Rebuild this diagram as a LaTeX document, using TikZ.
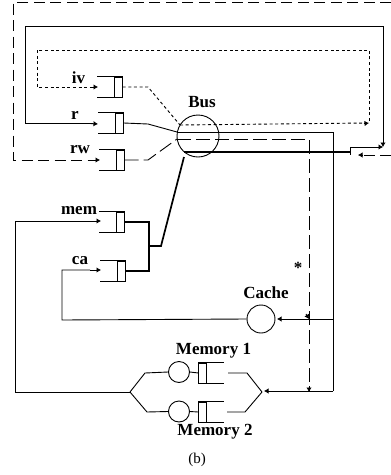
\documentclass[tikz,border=0pt]{standalone}
\usepackage{fontspec}
\setmainfont{Liberation Serif}
\usetikzlibrary{arrows.meta}
\tikzset{
  wire/.style={line width=0.9pt,line join=miter},
  heavy/.style={line width=1.7pt,line join=miter},
  longdash/.style={line width=0.9pt,dash pattern=on 11pt off 5.5pt},
  shortdash/.style={line width=0.9pt,dash pattern=on 3pt off 2.6pt},
  tip/.style={-{Latex[length=4.5pt,width=5.5pt]}},
  qrect/.style={draw,line width=0.9pt,minimum width=7.5pt,minimum height=20pt,inner sep=0pt,fill=white},
  ring/.style={draw,circle,line width=0.9pt,inner sep=0pt},
  lab/.style={inner sep=0pt,font=\fontsize{17}{18}\selectfont\bfseries}
}
\newcommand{\qlines}[2]{%
  \draw[wire] (#1.north east) -- ++(-#2pt,0pt);
  \draw[wire] (#1.south east) -- ++(-#2pt,0pt);}
\begin{document}
\begin{tikzpicture}[x=1pt,y=-1pt]
\useasboundingbox (0,0) rectangle (391,475);
% queues
\node[qrect] (iv) at (118.5,87) {};
\node[qrect] (r) at (119.5,123) {};
\node[qrect] (rw) at (120.5,160) {};
\node[qrect] (mem) at (120.5,222) {};
\node[qrect] (ca) at (121.5,271) {};
\qlines{iv}{26} \qlines{r}{26} \qlines{rw}{26} \qlines{mem}{26} \qlines{ca}{26}
% rings
\node[ring,minimum size=42pt] (bus) at (198,136) {};
\node[ring,minimum size=28pt] (cache) at (261,319) {};
\node[ring,minimum size=21pt] (m1) at (179,372) {};
\node[ring,minimum size=21pt] (m2) at (179,411.5) {};
\node[qrect] (mq1) at (202.5,373) {};
\node[qrect] (mq2) at (202.5,412) {};
\draw[wire] (mq1.north west) -- ++(26pt,0pt);
\draw[wire] (mq1.south west) -- ++(26pt,0pt);
\draw[wire] (mq2.north west) -- ++(26pt,0pt);
\draw[wire] (mq2.south west) -- ++(26pt,0pt);
% labels
\node[lab] (tiv) at (78.5,78) {iv};
\node[lab] (tr) at (75,115) {r};
\node[lab] (trw) at (80,150) {rw};
\node[lab] (tmem) at (79,211) {mem};
\node[lab] (tca) at (80,261) {ca};
\node[lab] (tbus) at (202,102) {Bus};
\node[lab] (tcache) at (266,293) {Cache};
\node[lab] (tm1) at (213.5,351) {Memory 1};
\node[lab] (tm2) at (215,432) {Memory 2};
\node[inner sep=0pt,font=\fontsize{15}{17}\selectfont] (tb) at (197,460) {(b)};
\node[lab] (star) at (298,268) {*};
% junction coordinates
\coordinate (ivin) at (98,87);
\coordinate (rin) at (98,124);
\coordinate (rwin) at (100,160);
\coordinate (memin) at (101,221);
\coordinate (cain) at (101,270);
\coordinate (join) at (350,152);
\coordinate (bdot) at (180,125);
\coordinate (bsol) at (177,132);
\coordinate (bdash) at (177,139);
\coordinate (bheavy) at (184,152);
\coordinate (bdown) at (184,157);
\coordinate (fl) at (130,392);
\coordinate (fr) at (262,392);
\coordinate (memdash) at (309,391);
\coordinate (cachedash) at (309,319);
\coordinate (memsol) at (333,391);
\coordinate (cachesol) at (333,319);
% outer dashed loop
\draw[longdash] (391,155) -- (358,155);
\draw[wire,tip] (362,155) -- (358,155);
\draw[longdash] (391,2) -- (13,2) -- (13,160) -- (92,160);
\draw[wire,tip] (92,160) -- (rwin);
\draw[wire] (350,147) -- (350,155);
% solid loop
\draw[wire,tip] (350,147) -- (383,147);
\draw[wire,tip] (383,140) -- (383,147);
\draw[wire] (383,140) -- (383,26) -- (25,26) -- (25,123.5) -- (90,123.5);
\draw[wire,tip] (90,123.5) -- (rin);
% dotted loop
\draw[shortdash] (bdot) -- (366,123) ;
\draw[wire,tip] (364,123.5) -- (369,123);
\draw[shortdash] (369,121) -- (369,50) -- (37,50) -- (37,87) -- (93,87);
\draw[wire,tip] (92,87) -- (ivin);
% queue outputs to the bus
\draw[shortdash] (iv.east) -- ++(2pt,0pt) -- (148,87) -- (bdot);
\draw[wire] (r.east) -- (148,124) -- (bsol);
\draw[longdash,dash pattern=on 14pt off 5pt] (rw.east) -- (148,160) -- (bdash);
% bus outputs
\draw[wire] (bsol) -- (333,132) -- (memsol);
\draw[longdash,dash pattern=on 14pt off 5pt] (bdash) -- (309,139) -- (memdash);
\draw[heavy] (bheavy) -- (join);
% heavy merge
\draw[heavy] (bdown) -- (161,246) -- (149,246);
\draw[heavy] (mem.east) -- (149,222) -- (149,271) -- (ca.east);
% memory and cache feedback
\draw[wire] (fl) -- (15,392) -- (15,221) -- (90,221);
\draw[wire,tip] (90,221) -- (memin);
\draw[wire] (cache.west) -- (62,320) -- (62,270) -- (90,270);
\draw[wire,tip] (90,270) -- (cain);
\draw[wire] (fl) -- (145,373) -- (m1.west);
\draw[wire] (fl) -- (147,412) -- (m2.west);
\draw[wire] (m1.east) -- (mq1.west);
\draw[wire] (m2.east) -- (mq2.west);
\draw[wire] (228,373) -- (247,373) -- (fr);
\draw[wire] (227,412) -- (245,412) -- (fr);
% arrivals at cache and memory
\draw[wire,tip] (memsol) -- (264,391);
\draw[wire,tip] (cachesol) -- (277,319);
\draw[wire,tip] (306,314) -- (309,319);
\draw[wire,tip] (309,386) -- (309,392);
\end{tikzpicture}
\end{document}
